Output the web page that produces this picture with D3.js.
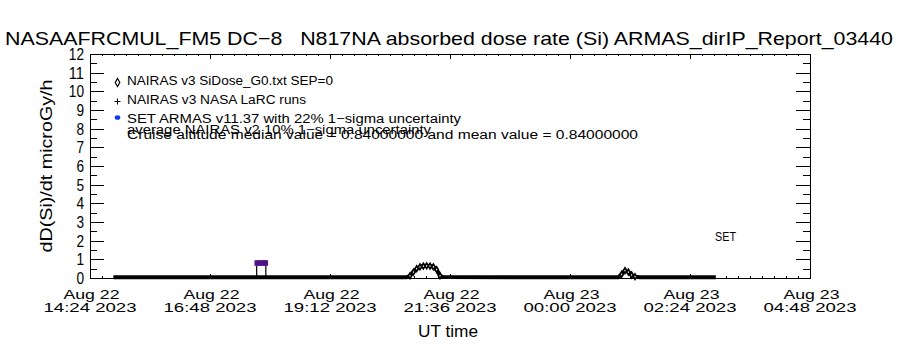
<!DOCTYPE html>
<html>
<head>
<meta charset="utf-8">
<script src="https://cdn.jsdelivr.net/npm/d3@7"></script>
<style>
  html, body { margin: 0; padding: 0; background: #fff; }
  svg { display: block; }
  text { font-family: "Liberation Sans", "DejaVu Sans", sans-serif; fill: #000; white-space: pre; }
</style>
</head>
<body>
<svg id="chart" width="900" height="350"></svg>
<script>
// NAIRAS v3 modelled dose rate along the flight (UT, microGy/h)
const nairasTimes = [
  "2023-08-22T14:52", "2023-08-22T20:44", "2023-08-22T20:48", "2023-08-22T20:52",
  "2023-08-22T20:56", "2023-08-22T21:00", "2023-08-22T21:04", "2023-08-22T21:08",
  "2023-08-22T21:12", "2023-08-22T21:16", "2023-08-22T21:20", "2023-08-22T21:24",
  "2023-08-22T21:28", "2023-08-23T00:58", "2023-08-23T01:02", "2023-08-23T01:06",
  "2023-08-23T01:10", "2023-08-23T01:14", "2023-08-23T01:18", "2023-08-23T01:24",
  "2023-08-23T02:55"
];
const nairasValues = [
  0.04, 0.04, 0.12, 0.32, 0.5, 0.6, 0.64, 0.65,
  0.64, 0.6, 0.45, 0.12, 0.05, 0.04, 0.2, 0.4,
  0.32, 0.16, 0.07, 0.04, 0.04
];

// ARMAS measured dose rate at cruise altitude
const armasTimes = ["2023-08-22T17:44", "2023-08-22T17:47", "2023-08-22T17:50", "2023-08-22T17:53", "2023-08-22T17:55"];
const armasValues = [0.84, 0.84, 0.84, 0.84, 0.84];
const armasUncertainty = 0.22;

// Axis ticks
const yTicks = [0, 1, 2, 3, 4, 5, 6, 7, 8, 9, 10, 11, 12];
const xTickTimes = ["2023-08-22T14:24", "2023-08-22T16:48", "2023-08-22T19:12", "2023-08-22T21:36",
                    "2023-08-23T00:00", "2023-08-23T02:24", "2023-08-23T04:48"];
const xTickDates = ["Aug 22", "Aug 22", "Aug 22", "Aug 22", "Aug 23", "Aug 23", "Aug 23"];
const xTickClock = ["14:24 2023", "16:48 2023", "19:12 2023", "21:36 2023", "00:00 2023", "02:24 2023", "04:48 2023"];

const titleText = "NASAAFRCMUL_FM5 DC\u22128   N817NA absorbed dose rate (Si) ARMAS_dirIP_Report_03440";
const legendLines = [
  "NAIRAS v3 SiDose_G0.txt SEP=0",
  "NAIRAS v3 NASA LaRC runs",
  "SET ARMAS v11.37 with 22% 1\u2212sigma uncertainty",
  "average NAIRAS v2 10% 1\u2212sigma uncertainty",
  "Cruise altitude median value = 0.84000000 and mean value = 0.84000000"
];

const parse = d3.utcParse("%Y-%m-%dT%H:%M");
const svg = d3.select("#chart");
const L = 90, R = 810, T = 54, B = 278;

const x = d3.scaleUtc().domain([parse(xTickTimes[0]), parse(xTickTimes[xTickTimes.length - 1])]).range([L, R]);
const y = d3.scaleLinear().domain([0, 12]).range([B, T]);

svg.append("rect").attr("width", 900).attr("height", 350).attr("fill", "#fff");

// Minor tick positions: 10 per major interval on x, 2 per unit on y
const xMajor = xTickTimes.map(parse);
const xMinor = [];
for (let i = 0; i < xMajor.length - 1; i++) {
  const a = +xMajor[i], b = +xMajor[i + 1];
  for (let k = 1; k < 10; k++) xMinor.push(new Date(a + (b - a) * k / 10));
}
const yMinor = d3.range(0.5, 12, 1);

function axisGroup(axis, tx, ty) {
  const g = svg.append("g").attr("transform", `translate(${tx},${ty})`).call(axis);
  g.selectAll(".domain").remove();
  g.selectAll("line").attr("stroke", "#000").attr("stroke-width", 1).attr("shape-rendering", "crispEdges");
  g.selectAll("text").remove();
  return g;
}
// inward ticks on all four sides
axisGroup(d3.axisBottom(x).tickValues(xMajor).tickSize(-4.5), 0, B);
axisGroup(d3.axisBottom(x).tickValues(xMinor).tickSize(-2.3), 0, B);
axisGroup(d3.axisTop(x).tickValues(xMajor).tickSize(-4.5), 0, T);
axisGroup(d3.axisTop(x).tickValues(xMinor).tickSize(-2.3), 0, T);
axisGroup(d3.axisLeft(y).tickValues(yTicks).tickSize(-14.4), L, 0);
axisGroup(d3.axisLeft(y).tickValues(yMinor).tickSize(-7.2), L, 0);
axisGroup(d3.axisRight(y).tickValues(yTicks).tickSize(-14.4), R, 0);
axisGroup(d3.axisRight(y).tickValues(yMinor).tickSize(-7.2), R, 0);

// frame
svg.append("rect").attr("x", L + 0.5).attr("y", T + 0.5).attr("width", R - L).attr("height", B - T)
  .attr("fill", "none").attr("stroke", "#000").attr("stroke-width", 1);

// y tick labels
svg.append("g").selectAll("text").data(yTicks).join("text")
  .attr("x", 84).attr("y", d => y(d) + 6)
  .attr("text-anchor", "end").attr("font-size", 16)
  .attr("textLength", d => String(d).length * 7.6).attr("lengthAdjust", "spacingAndGlyphs")
  .text(d => d);

// x tick labels (two lines)
const xl = svg.append("g");
xMajor.forEach((t, i) => {
  xl.append("text").attr("x", x(t) + 1.5).attr("y", 299).attr("text-anchor", "middle")
    .attr("font-size", 13.5).attr("textLength", 56).attr("lengthAdjust", "spacingAndGlyphs")
    .text(xTickDates[i]);
  xl.append("text").attr("x", x(t)).attr("y", 312).attr("text-anchor", "middle")
    .attr("font-size", 13.5).attr("textLength", 93).attr("lengthAdjust", "spacingAndGlyphs")
    .text(xTickClock[i]);
});

// axis titles
svg.append("text").attr("x", 448).attr("y", 337).attr("text-anchor", "middle")
  .attr("font-size", 16).attr("textLength", 60).attr("lengthAdjust", "spacingAndGlyphs").text("UT time");
svg.append("text").attr("transform", "translate(52,166) rotate(-90)").attr("text-anchor", "middle")
  .attr("font-size", 17).attr("textLength", 173).attr("lengthAdjust", "spacingAndGlyphs")
  .text("dD(Si)/dt microGy/h");

// title
svg.append("text").attr("x", 5).attr("y", 45).attr("font-size", 18.5)
  .attr("textLength", 888).attr("lengthAdjust", "spacingAndGlyphs").text(titleText);

// legend
const legendY = [85, 104, 123, 134, 139];
const legendW = [206, 179, 334, 304, 511];
legendLines.forEach((s, i) => {
  svg.append("text").attr("x", 127).attr("y", legendY[i]).attr("font-size", 12.5)
    .attr("textLength", legendW[i]).attr("lengthAdjust", "spacingAndGlyphs").text(s);
});
svg.append("path").attr("d", d3.symbol(d3.symbolDiamond, 18)())
  .attr("transform", "translate(117.5,82.5)").attr("fill", "#fff").attr("stroke", "#000").attr("stroke-width", 1.2);
svg.append("path").attr("d", "M114.5,101.5h6M117.5,98.5v6").attr("stroke", "#000").attr("stroke-width", 1);
svg.append("ellipse").attr("cx", 117.5).attr("cy", 117.5).attr("rx", 2.8).attr("ry", 2.3).attr("fill", "#1238e8");

// SET label
svg.append("text").attr("x", 715).attr("y", 241).attr("font-size", 12.5)
  .attr("textLength", 21).attr("lengthAdjust", "spacingAndGlyphs").text("SET");

// NAIRAS series
const nairas = nairasTimes.map((t, i) => ({ t: parse(t), v: nairasValues[i] }));
svg.append("path").datum(nairas)
  .attr("d", d3.line().x(d => x(d.t)).y(d => y(d.v)))
  .attr("fill", "none").attr("stroke", "#000").attr("stroke-width", 4).attr("stroke-linejoin", "round");
svg.append("g").selectAll("path").data(nairas.filter(d => d.v > 0.05)).join("path")
  .attr("d", d3.symbol(d3.symbolDiamond, 9)())
  .attr("transform", d => `translate(${x(d.t)},${y(d.v)})`)
  .attr("fill", "#fff").attr("stroke", "#000").attr("stroke-width", 1.6);

// ARMAS measurements with uncertainty band
const armas = armasTimes.map((t, i) => ({ t: parse(t), v: armasValues[i] }));
const first = armas[0], last = armas[armas.length - 1];
svg.append("path")
  .attr("d", `M${x(first.t)},${y(0)}V${y(first.v * (1 - armasUncertainty))}M${x(last.t)},${y(0)}V${y(last.v * (1 - armasUncertainty))}`)
  .attr("stroke", "#000").attr("stroke-width", 1.2).attr("fill", "none");
svg.append("g").selectAll("rect").data(armas).join("rect")
  .attr("x", d => x(d.t) - 2.2).attr("width", 4.4)
  .attr("y", d => y(d.v * (1 + armasUncertainty * 0.6)))
  .attr("height", d => y(d.v * (1 - armasUncertainty)) - y(d.v * (1 + armasUncertainty * 0.6)))
  .attr("fill", "#4f1287");
</script>
</body>
</html>
